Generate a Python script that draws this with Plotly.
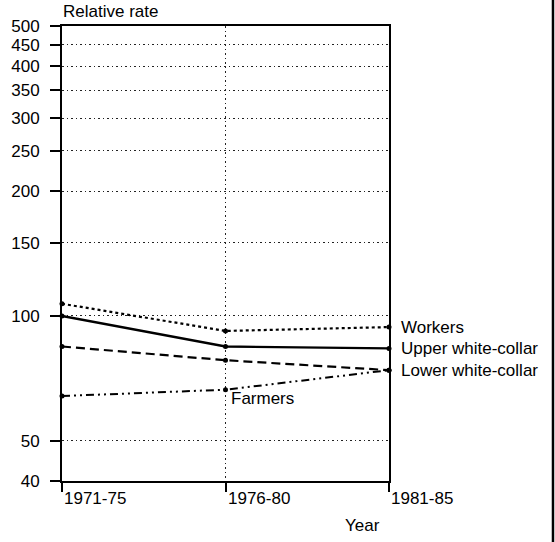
import math
import plotly.graph_objects as go

# Periods and relative mortality rates by social class
periods = ["1971-75", "1976-80", "1981-85"]
workers = [107, 92, 94]
upper_white_collar = [100, 84.4, 83.5]
lower_white_collar = [84.4, 78.2, 74]
farmers = [64.1, 66.4, 74]

y_ticks = [40, 50, 100, 150, 200, 250, 300, 350, 400, 450, 500]

series = [
    ("Workers", workers, "dot", 2.2),
    ("Upper white-collar", upper_white_collar, "solid", 2.4),
    ("Lower white-collar", lower_white_collar, "9px,5px", 2.2),
    ("Farmers", farmers, "8px,4px,2px,4px,2px,4px", 2.0),
]

FONT = "Liberation Sans, Arial, Helvetica, sans-serif"
GRID_DASH = "1.5px,3px"

fig = go.Figure()
for name, vals, dash, w in series:
    fig.add_trace(go.Scatter(
        x=periods, y=vals, mode="lines+markers", name=name,
        line=dict(color="black", width=w, dash=dash),
        marker=dict(color="black", size=5),
        cliponaxis=False, showlegend=False,
    ))

# Series labels to the right of the final period
for name, vals, _, _ in series[:3]:
    fig.add_annotation(x=periods[-1], y=math.log10(vals[-1]), text=name,
                       xanchor="left", yanchor="middle", xshift=10,
                       showarrow=False, font=dict(size=17))
fig.add_annotation(x=periods[1], y=math.log10(farmers[1]), text="Farmers",
                   xanchor="left", yanchor="middle", xshift=3, yshift=-9,
                   showarrow=False, font=dict(size=17))

# Period labels, left-aligned at each tick
for p in periods:
    fig.add_annotation(x=p, y=0, yref="paper", text=p, xanchor="left",
                       yanchor="middle", yshift=-17, xshift=0,
                       showarrow=False, font=dict(size=17))

fig.add_annotation(x=0, xref="paper", y=1, yref="paper", text="Relative rate",
                   xanchor="left", yanchor="middle", yshift=15, xshift=-1,
                   showarrow=False, font=dict(size=17))
fig.add_annotation(x=0.92, xref="paper", y=0, yref="paper", text="Year",
                   xanchor="center", yanchor="middle", yshift=-44,
                   showarrow=False, font=dict(size=17))

# Right-hand border line
fig.add_shape(type="line", xref="paper", yref="paper",
              x0=1.5015, x1=1.5015, y0=-0.14, y1=1.06,
              line=dict(color="black", width=2.5))

fig.update_layout(
    width=555, height=542,
    margin=dict(l=62, r=166, t=26, b=61),
    paper_bgcolor="white", plot_bgcolor="white",
    font=dict(family=FONT, size=17, color="black"),
)
fig.update_xaxes(
    type="category", range=[0, 2], showticklabels=False,
    ticks="outside", ticklen=9, tickwidth=1.5, tickcolor="black",
    showgrid=True, gridcolor="#222", gridwidth=1, griddash=GRID_DASH,
    showline=True, linecolor="black", linewidth=2, mirror=True,
    zeroline=False, automargin=False,
)
fig.update_yaxes(
    type="log", range=[math.log10(40), math.log10(500)],
    tickvals=y_ticks, ticktext=[str(v) for v in y_ticks],
    ticks="outside", ticklen=10, tickwidth=1.5, tickcolor="black",
    ticklabelstandoff=7,
    tickfont=dict(size=17),
    showgrid=True, gridcolor="#222", gridwidth=1, griddash=GRID_DASH,
    showline=True, linecolor="black", linewidth=2, mirror=True,
    zeroline=False, automargin=False,
)

fig.write_html("out.html")
